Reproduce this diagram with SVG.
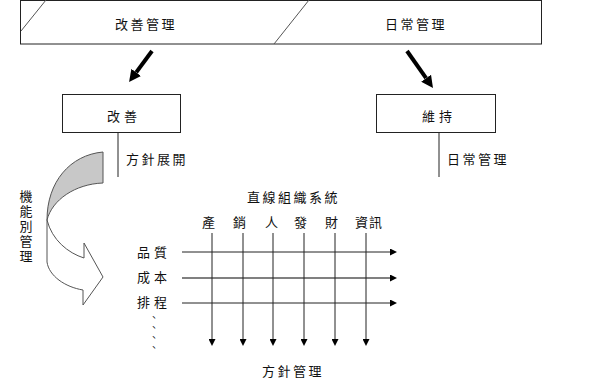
<svg xmlns="http://www.w3.org/2000/svg" width="600" height="386" viewBox="0 0 600 386">
<style>
text{font-family:"Noto Sans CJK TC","Noto Sans CJK SC",sans-serif;font-size:13px;fill:#111;}
.sp{letter-spacing:2.5px;}
.sp2{letter-spacing:4px;}
.dot{font-size:10px;writing-mode:tb;}
.vt{writing-mode:tb;letter-spacing:2px;}
.box{fill:#fff;stroke:#222;stroke-width:1;}
.thin{stroke:#222;stroke-width:1;fill:none;}
.thick{stroke:#000;stroke-width:4;fill:none;}
</style>
<defs>
<marker id="big" markerUnits="userSpaceOnUse" markerWidth="12" markerHeight="12" refX="0" refY="6" orient="auto">
<path d="M0,0 L12,6 L0,12 Z" fill="#000"/>
</marker>
<marker id="small" markerUnits="userSpaceOnUse" markerWidth="7" markerHeight="7" refX="0" refY="3.5" orient="auto">
<path d="M0,0 L7,3.5 L0,7 Z" fill="#000"/>
</marker>
</defs>
<rect width="600" height="386" fill="#fff"/>

<g id="top">
<rect class="box" x="20.5" y="0.5" width="521" height="43.5"/>
<line x1="21" y1="31" x2="46" y2="0" stroke="#555" stroke-width="1"/>
<line x1="274" y1="44" x2="309" y2="0" stroke="#555" stroke-width="1"/>
<text class="sp" x="115" y="29">改善管理</text>
<text class="sp" x="385" y="29">日常管理</text>
</g>

<g id="kaizen">
<rect class="box" x="62.5" y="94.5" width="118" height="38"/>
<text class="sp2" x="107" y="121">改善</text>
</g>

<g id="iji">
<rect class="box" x="376.5" y="94.5" width="119" height="38"/>
<text class="sp2" x="422" y="121">維持</text>
</g>

<g id="curved-arrow">
<path d="M103,152 C70,155 47,182 47,220 C52,200 75,184 103,183 Z" fill="#c8c8c8" stroke="#555" stroke-width="1"/>
<path d="M47,220 L47,262 C49,276 65,287 83,290 L83,305 L103,277 L84,243 L84,258 C68,253 52,240 47,220 Z" fill="#fff" stroke="#555" stroke-width="1"/>
</g>

<g id="labels">
<text class="sp" x="126" y="164">方針展開</text>
<text class="sp" x="447" y="164">日常管理</text>
<text class="vt" x="26" y="190">機能別管理</text>
<text class="sp" x="247" y="202">直線組織系統</text>
<text x="202" y="227">產</text>
<text x="233" y="227">銷</text>
<text x="265" y="227">人</text>
<text x="294" y="227">發</text>
<text x="325" y="227">財</text>
<text x="355" y="227" letter-spacing="1">資訊</text>
<text class="sp2" x="137" y="257">品質</text>
<text class="sp2" x="137" y="282">成本</text>
<text class="sp2" x="137" y="307">排程</text>
<text class="dot" x="154" y="312">、、、、</text>
<text class="sp" x="262" y="376">方針管理</text>
</g>

<g id="connectors">
<line class="thick" x1="152" y1="51" x2="136.2" y2="72.4" marker-end="url(#big)"/>
<line class="thick" x1="407" y1="51" x2="426.1" y2="78.2" marker-end="url(#big)"/>
<line class="thin" x1="118" y1="132" x2="118" y2="177"/>
<line class="thin" x1="439" y1="132" x2="439" y2="177"/>
<line class="thin" x1="182" y1="252" x2="390" y2="252" marker-end="url(#small)"/>
<line x1="182" y1="278" x2="390" y2="278" stroke="#808080" stroke-width="2" marker-end="url(#small)"/>
<line class="thin" x1="182" y1="303" x2="390" y2="303" marker-end="url(#small)"/>
<line class="thin" x1="212" y1="233" x2="212" y2="339" marker-end="url(#small)"/>
<line class="thin" x1="243" y1="233" x2="243" y2="339" marker-end="url(#small)"/>
<line class="thin" x1="273" y1="233" x2="273" y2="339" marker-end="url(#small)"/>
<line class="thin" x1="304" y1="233" x2="304" y2="339" marker-end="url(#small)"/>
<line class="thin" x1="335" y1="233" x2="335" y2="339" marker-end="url(#small)"/>
<line class="thin" x1="366" y1="233" x2="366" y2="339" marker-end="url(#small)"/>
</g>
</svg>
